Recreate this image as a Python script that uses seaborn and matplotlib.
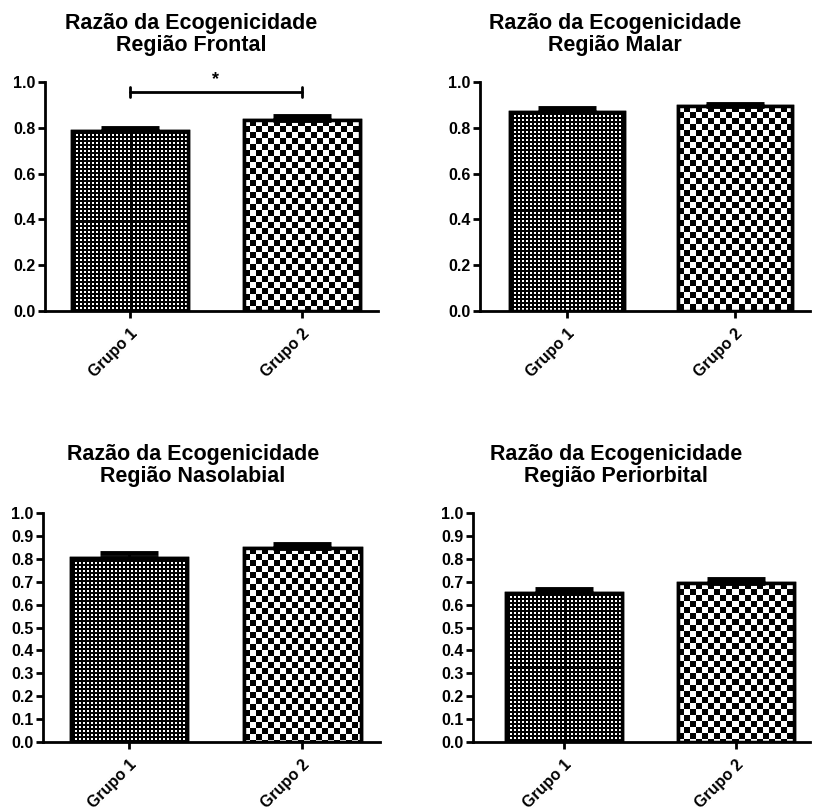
import numpy as np
import pandas as pd
import matplotlib
matplotlib.use("Agg")
import matplotlib.pyplot as plt
import seaborn as sns
from matplotlib.patches import Rectangle

# --- dados ---------------------------------------------------------------
grupos = ["Grupo 1", "Grupo 2"]

titulo_frontal = "Razão da Ecogenicidade\nRegião Frontal"
titulo_malar = "Razão da Ecogenicidade\nRegião Malar"
titulo_nasolabial = "Razão da Ecogenicidade\nRegião Nasolabial"
titulo_periorbital = "Razão da Ecogenicidade\nRegião Periorbital"

media_frontal = [0.787, 0.834]
epm_frontal = [0.013, 0.018]
media_malar = [0.869, 0.895]
epm_malar = [0.018, 0.010]
media_nasolabial = [0.802, 0.846]
epm_nasolabial = [0.022, 0.019]
media_periorbital = [0.652, 0.694]
epm_periorbital = [0.018, 0.017]

yticks_passo_02 = [0.0, 0.2, 0.4, 0.6, 0.8, 1.0]
yticks_passo_01 = [0.0, 0.1, 0.2, 0.3, 0.4, 0.5, 0.6, 0.7, 0.8, 0.9, 1.0]

# --- estilo --------------------------------------------------------------
sns.set_style("ticks")
plt.rcParams["font.family"] = ["Liberation Sans", "DejaVu Sans"]
plt.rcParams["font.weight"] = "bold"
plt.rcParams["text.color"] = "black"
plt.rcParams["axes.labelcolor"] = "black"
plt.rcParams["xtick.color"] = "black"
plt.rcParams["ytick.color"] = "black"

W, H = 815, 810
fig = plt.figure(figsize=(W / 100, H / 100), dpi=100)


def px_axes(left, right, y0, y1):
    """Axes rectangle from pixel edges (y measured from top)."""
    return [left / W, (H - y0) / H, (right - left) / W, (y0 - y1) / H]


paineis = [
    dict(titulo=titulo_frontal, media=media_frontal, epm=epm_frontal,
         rect=px_axes(45, 378, 311, 82), xlim=(-0.494, 1.442),
         yticks=yticks_passo_02, tx=0.44),
    dict(titulo=titulo_malar, media=media_malar, epm=epm_malar,
         rect=px_axes(480, 810, 311, 82), xlim=(-0.518, 1.446),
         yticks=yticks_passo_02, tx=0.41),
    dict(titulo=titulo_nasolabial, media=media_nasolabial, epm=epm_nasolabial,
         rect=px_axes(43, 380, 742, 513), xlim=(-0.497, 1.45),
         yticks=yticks_passo_01, tx=0.445),
    dict(titulo=titulo_periorbital, media=media_periorbital, epm=epm_periorbital,
         rect=px_axes(473, 810, 742, 513), xlim=(-0.529, 1.43),
         yticks=yticks_passo_01, tx=0.424),
]


def padrao_pontilhado(h, w):
    i, j = np.mgrid[0:h, 0:w]
    branco = ((i % 4) < 2) & ((j % 4) < 2)
    return np.where(branco, 1.0, 0.0)


def padrao_xadrez(h, w):
    i, j = np.mgrid[0:h, 0:w]
    branco = ((i // 6) + (j // 6)) % 2 == 0
    return np.where(branco, 1.0, 0.0)


padroes = [padrao_pontilhado, padrao_xadrez]

eixos = []
for p in paineis:
    ax = fig.add_axes(p["rect"])
    df = pd.DataFrame({"grupo": grupos, "razao": p["media"]})
    sns.barplot(data=df, x="grupo", y="razao", order=grupos, ax=ax,
                errorbar=None, width=0.675, color="white",
                edgecolor="black", linewidth=2.5, zorder=2)
    ax.set_xlim(*p["xlim"])
    ax.set_ylim(0, 1.0)
    ax.set_yticks(p["yticks"])
    ax.set_yticklabels([f"{v:.1f}" for v in p["yticks"]],
                       fontsize=11.5, fontweight="bold")
    ax.set_xticks([0, 1])
    ax.set_xticklabels(grupos, rotation=45, ha="right", va="top",
                       rotation_mode="anchor", fontsize=11.5,
                       fontweight="bold")
    ax.set_xlabel("")
    ax.set_ylabel("")
    for lado in ("top", "right"):
        ax.spines[lado].set_visible(False)
    for lado in ("left", "bottom"):
        ax.spines[lado].set_linewidth(2)
        ax.spines[lado].set_color("black")
    ax.tick_params(axis="both", direction="out", length=5, width=2,
                   colors="black", pad=2)
    ax.tick_params(axis="x", pad=6)
    ax.set_title(p["titulo"], fontsize=15.5, fontweight="bold", pad=22,
                 x=p["tx"], linespacing=1.08, color="black")

    # preenchimento com textura em cada barra
    barras = list(ax.patches)
    for barra, padrao in zip(barras, padroes):
        bb = barra.get_window_extent()
        h_px = max(int(round(bb.height)), 1)
        w_px = max(int(round(bb.width)), 1)
        x0 = barra.get_x()
        x1 = x0 + barra.get_width()
        img = ax.imshow(padrao(h_px, w_px), cmap="gray", vmin=0, vmax=1,
                        extent=[x0, x1, 0, barra.get_height()],
                        origin="upper", interpolation="nearest",
                        aspect="auto", zorder=2.5)
        img.set_clip_path(barra)
        ax.add_patch(Rectangle((x0, 0), barra.get_width(), barra.get_height(),
                               fill=False, edgecolor="black", linewidth=2.5,
                               zorder=3))
    ax.set_xlim(*p["xlim"])
    ax.set_ylim(0, 1.0)

    # barras de erro (apenas para cima)
    ax.errorbar([0, 1], p["media"], yerr=[[0, 0], p["epm"]], fmt="none",
                ecolor="black", elinewidth=2, capsize=21, capthick=3.5,
                zorder=4)
    eixos.append(ax)

# comparação significativa na região frontal
ax = eixos[0]
ax.plot([0, 1], [0.958, 0.958], color="black", lw=2, clip_on=False, zorder=5)
for xv in (0, 1):
    ax.plot([xv, xv], [0.935, 0.98], color="black", lw=2, clip_on=False,
            zorder=5)
ax.text(0.5, 0.975, "*", ha="center", va="bottom", fontsize=13,
        fontweight="bold")

fig.savefig("out.png", dpi=100, facecolor="white")
